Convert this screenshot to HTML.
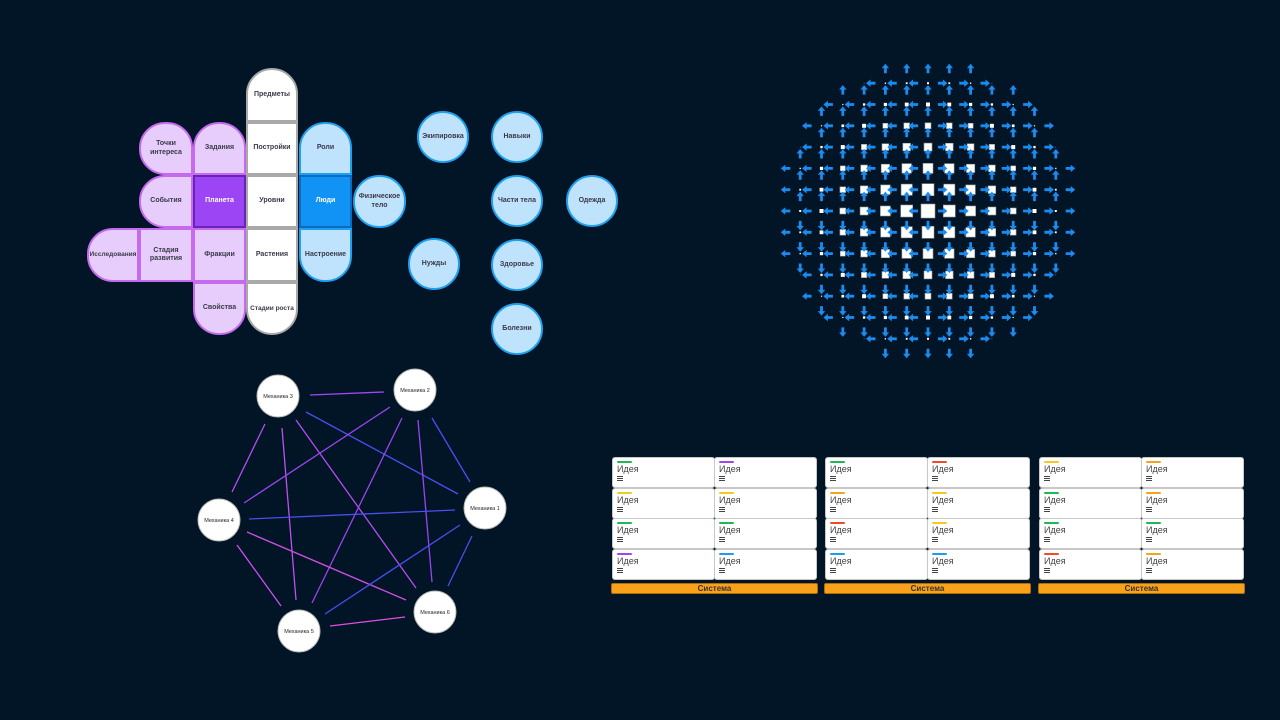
<!DOCTYPE html>
<html><head><meta charset="utf-8"><style>
body{margin:0;width:1280px;height:720px;background:#011526;overflow:hidden;position:relative;font-family:"Liberation Sans",sans-serif}
.c{position:absolute;box-sizing:border-box;display:flex;align-items:center;justify-content:center;text-align:center;font-size:7px;font-weight:bold;color:#3a3a4a;line-height:1.2;white-space:nowrap}
.w{background:#fff;border:2px solid #a9a9a9}
.l{background:#e6cdfb;border:2px solid #c66af0}
.b{background:#bfe3fc;border:2px solid #1ea0f0}
.card{position:absolute;width:101px;height:29px;background:#fff;border-radius:2px;box-shadow:0 0 0 1px #c8c8c8;box-sizing:border-box;padding-left:4px;font-size:9px;color:#444}
.card i{display:block;width:15px;height:2px;border-radius:1px;margin-top:3px}
.card span{display:block;margin-top:1px}
.card b{display:block;width:6px;height:5px;margin-top:2px;background:repeating-linear-gradient(#444 0 1px,transparent 1px 2px)}
.bar{position:absolute;height:11px;width:207px;background:#f9a11b;border:1px solid #b06d05;border-radius:2px;box-sizing:border-box;font-size:8px;font-weight:bold;color:#333;text-align:center;line-height:10px}
</style></head><body>
<div class="c w" style="left:246px;top:68px;width:52px;height:54px;border-radius:26px 26px 0 0">Предметы</div>
<div class="c w" style="left:246px;top:122px;width:52px;height:53px">Постройки</div>
<div class="c w" style="left:246px;top:175px;width:52px;height:53px">Уровни</div>
<div class="c w" style="left:246px;top:228px;width:52px;height:54px">Растения</div>
<div class="c w" style="left:246px;top:282px;width:52px;height:53px;border-radius:0 0 26px 26px;font-size:6.5px">Стадии роста</div>
<div class="c l" style="left:139px;top:122px;width:54px;height:53px;border-radius:26px 26px 0 26px">Точки<br>интереса</div>
<div class="c l" style="left:193px;top:122px;width:53px;height:53px;border-radius:26px 26px 0 0">Задания</div>
<div class="c l" style="left:139px;top:175px;width:54px;height:53px;border-radius:26px 0 0 26px">События</div>
<div class="c" style="left:193px;top:175px;width:53px;height:53px;background:#9b45f5;border:2px solid #6a23b8;color:#fff">Планета</div>
<div class="c l" style="left:87px;top:228px;width:52px;height:54px;border-radius:26px 0 0 26px;font-size:6.5px">Исследования</div>
<div class="c l" style="left:139px;top:228px;width:54px;height:54px">Стадия<br>развития</div>
<div class="c l" style="left:193px;top:228px;width:53px;height:54px">Фракции</div>
<div class="c l" style="left:193px;top:282px;width:53px;height:53px;border-radius:0 0 26px 26px">Свойства</div>
<div class="c b" style="left:299px;top:122px;width:53px;height:53px;border-radius:26px 26px 0 0">Роли</div>
<div class="c" style="left:299px;top:175px;width:53px;height:53px;background:#1193f5;border:2px solid #0a6ac4;color:#fff">Люди</div>
<div class="c b" style="left:299px;top:228px;width:53px;height:54px;border-radius:0 0 26px 26px">Настроение</div>
<div class="c b" style="left:353px;top:175px;width:53px;height:53px;border-radius:26px">Физическое<br>тело</div>
<div class="c b" style="left:417px;top:111px;width:52px;height:52px;border-radius:50%">Экипировка</div>
<div class="c b" style="left:491px;top:111px;width:52px;height:52px;border-radius:50%">Навыки</div>
<div class="c b" style="left:491px;top:175px;width:52px;height:52px;border-radius:50%">Части тела</div>
<div class="c b" style="left:566px;top:175px;width:52px;height:52px;border-radius:50%">Одежда</div>
<div class="c b" style="left:408px;top:238px;width:52px;height:52px;border-radius:50%">Нужды</div>
<div class="c b" style="left:491px;top:239px;width:52px;height:52px;border-radius:50%">Здоровье</div>
<div class="c b" style="left:491px;top:303px;width:52px;height:52px;border-radius:50%">Болезни</div>

<svg id="net" width="1280" height="720" style="position:absolute;left:0;top:0" font-family="Liberation Sans,sans-serif">
<g stroke-width="1.3" fill="none">
<line x1="310" y1="395" x2="384" y2="392" stroke="#a347f0"/>
<line x1="306" y1="412" x2="458" y2="494" stroke="#4a4ef0"/>
<line x1="265" y1="424" x2="232" y2="492" stroke="#b44ef0"/>
<line x1="282" y1="428" x2="296" y2="600" stroke="#c050f0"/>
<line x1="296" y1="420" x2="416" y2="588" stroke="#b44ef0"/>
<line x1="390" y1="407" x2="244" y2="503" stroke="#9a44f0"/>
<line x1="432" y1="418" x2="470" y2="482" stroke="#4a4ef0"/>
<line x1="402" y1="418" x2="312" y2="603" stroke="#9a44f0"/>
<line x1="418" y1="420" x2="432" y2="582" stroke="#9a44f0"/>
<line x1="249" y1="519" x2="455" y2="510" stroke="#4a4ef0"/>
<line x1="237" y1="545" x2="281" y2="606" stroke="#d050f0"/>
<line x1="247" y1="532" x2="406" y2="600" stroke="#d050e0"/>
<line x1="325" y1="614" x2="460" y2="525" stroke="#4a4ef0"/>
<line x1="472" y1="536" x2="448" y2="586" stroke="#4a4ef0"/>
<line x1="330" y1="626" x2="405" y2="617" stroke="#e050e0"/>
</g>
<g fill="#fff" stroke="#bbb" stroke-width="1">
<circle cx="278" cy="396" r="21"/><circle cx="415" cy="390" r="21"/><circle cx="485" cy="508" r="21"/>
<circle cx="219" cy="520" r="21"/><circle cx="299" cy="631" r="21"/><circle cx="435" cy="612" r="21"/>
</g>
<g font-size="5.5" text-anchor="middle" fill="#222">
<text x="278" y="398">Механика 3</text><text x="415" y="392">Механика 2</text><text x="485" y="510">Механика 1</text>
<text x="219" y="522">Механика 4</text><text x="299" y="633">Механика 5</text><text x="435" y="614">Механика 6</text>
</g>
<g id="dots"></g>
</svg>

<div id="cards"></div>
<script>
(function(){
var g=document.getElementById('dots'),cx=928,cy=211,sp=21.3,h='',A='#1a8cf0';
function ok(a,b){var d=Math.sqrt(a*a+b*b);if(d>7.3)return false;if(Math.abs(b)>=7)return false;if(Math.abs(b)==6&&Math.abs(a)>3)return false;return true;}
for(var j=-7;j<=7;j++)for(var i=-7;i<=7;i++){
 var d=Math.sqrt(i*i+j*j);if(d>7.3)continue;
 var x=cx+i*sp,y=cy+j*sp,s=Math.max(0,14-2*d);
 if(s>0.5)h+='<rect x="'+(x-s/2)+'" y="'+(y-s/2)+'" width="'+s+'" height="'+s+'" fill="#fff" stroke="#999" stroke-width="'+(s>4?0.6:0)+'"/>';
 if(i!==0&&ok(i,j)){var sg=i>0?1:-1,ax=x-sg*0.3*sp;
  h+='<path d="M'+(ax-sg*5)+' '+(y-1.4)+'h'+(sg*5)+'v-2.3l'+(sg*4.5)+' 3.7l'+(-sg*4.5)+' 3.7v-2.3h'+(-sg*5)+'z" fill="'+A+'"/>';}
 if(j!==0&&ok(j,i)){var sg=j>0?1:-1,ay=y-sg*0.3*sp;
  h+='<path d="M'+(x-1.4)+' '+(ay-sg*5)+'v'+(sg*5)+'h-2.3l3.7 '+(sg*4.5)+'l3.7 '+(-sg*4.5)+'h-2.3v'+(-sg*5)+'z" fill="'+A+'"/>';}
}
g.innerHTML=h;
var G=[613,826,1040],Y=[458,489,519,550],
C=[[['#1db954','#9b45f5'],['#f7c91e','#f7c91e'],['#1db954','#1db954'],['#9b45f5','#1e9bf0']],
[['#1db954','#f04a2a'],['#f9a11b','#f7c91e'],['#f04a2a','#f7c91e'],['#1e9bf0','#1e9bf0']],
[['#f7c91e','#f9a11b'],['#1db954','#f9a11b'],['#1db954','#1db954'],['#f04a2a','#f9a11b']]],o='';
for(var k=0;k<3;k++){for(var r=0;r<4;r++)for(var c=0;c<2;c++)
 o+='<div class="card" style="left:'+(G[k]+c*102)+'px;top:'+Y[r]+'px"><i style="background:'+C[k][r][c]+'"></i><span>Идея</span><b></b></div>';
 o+='<div class="bar" style="left:'+(G[k]-2)+'px;top:583px">Система</div>';}
document.getElementById('cards').innerHTML=o;
})();
</script>
</body></html>
